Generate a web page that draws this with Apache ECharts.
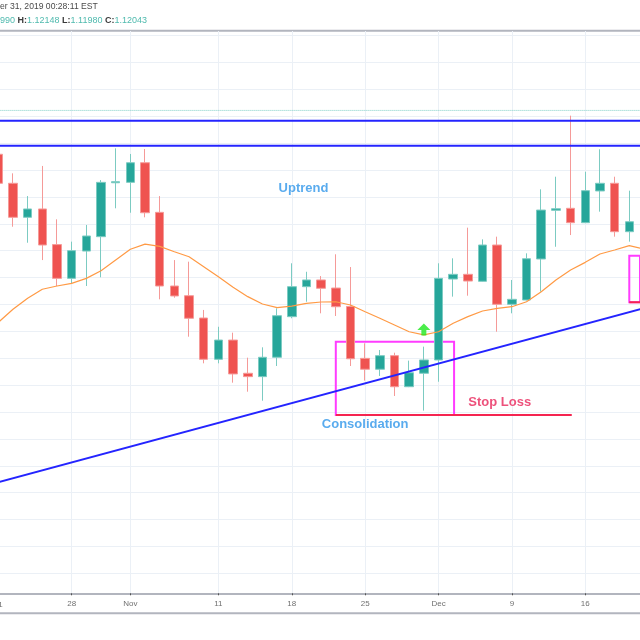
<!DOCTYPE html>
<html><head><meta charset="utf-8">
<script src="https://cdn.jsdelivr.net/npm/echarts@6/dist/echarts.min.js"></script>
<style>html,body{margin:0;padding:0;background:#fff;overflow:hidden}#c{width:640px;height:640px}</style>
</head><body><div id="c"></div>
<script>
// trading-day index 0 = 2019-10-21
const dayIndex = [0,1,2,3,4,5,6,7,8,9,10,11,12,13,14,15,16,17,18,19,20,21,22,23,24,25,26,27,28,29,30,31,32,33,34,35,36,37,38,39,40,41,42,43];
const opens  = [1.11717,1.11501,1.11248,1.11310,1.11045,1.10794,1.10997,1.11104,1.11505,1.11508,1.11654,1.11285,1.10737,1.10665,1.10499,1.10192,1.10335,1.10088,1.10063,1.10207,1.10509,1.10732,1.10782,1.10722,1.10585,1.10199,1.10118,1.10219,1.09988,1.10088,1.10187,1.10789,1.10824,1.10772,1.11042,1.10601,1.10633,1.10938,1.11300,1.11315,1.11208,1.11444,1.11501,1.11141];
const closes = [1.11501,1.11248,1.11310,1.11042,1.10794,1.11000,1.11109,1.11508,1.11513,1.11654,1.11282,1.10737,1.10663,1.10497,1.10192,1.10335,1.10083,1.10063,1.10207,1.10516,1.10732,1.10782,1.10720,1.10583,1.10196,1.10118,1.10219,1.09988,1.10092,1.10187,1.10794,1.10824,1.10774,1.11042,1.10601,1.10638,1.10940,1.11302,1.11312,1.11208,1.11446,1.11501,1.11141,1.11215];
const lows   = [1.11451,1.11178,1.11059,1.10930,1.10737,1.10757,1.10737,1.10802,1.11315,1.11282,1.11248,1.10638,1.10650,1.10360,1.10162,1.10162,1.10018,1.09951,1.09884,1.10142,1.10497,1.10620,1.10534,1.10514,1.10142,1.10033,1.10068,1.09919,1.09985,1.09810,1.10025,1.10658,1.10665,1.10770,1.10397,1.10534,1.10630,1.10695,1.11029,1.11116,1.11205,1.11290,1.11104,1.11067];
const highs  = [1.11763,1.11575,1.11406,1.11630,1.11233,1.11067,1.11191,1.11525,1.11761,1.11719,1.11756,1.11406,1.10930,1.10918,1.10559,1.10434,1.10390,1.10204,1.10281,1.10571,1.10906,1.10843,1.10811,1.10973,1.10878,1.10311,1.10261,1.10241,1.10182,1.10286,1.10906,1.10943,1.11171,1.11084,1.11104,1.10782,1.10980,1.11456,1.11550,1.12004,1.11587,1.11754,1.11550,1.11446];
const maIndex = [0,1,2,3,4,5,6,7,8,9,10,11,12,13,14,15,16,17,18,19,20,21,22,23,24,25,26,27,28,29,30,31,32,33,34,35,36,37,38,39,40,41,42,43,44];
const maValues = [1.10466,1.10564,1.10646,1.10713,1.10737,1.10757,1.10794,1.10851,1.10930,1.11010,1.11049,1.11032,1.10992,1.10955,1.10881,1.10806,1.10727,1.10658,1.10603,1.10576,1.10588,1.10608,1.10618,1.10620,1.10596,1.10546,1.10497,1.10447,1.10397,1.10373,1.10397,1.10460,1.10509,1.10551,1.10571,1.10583,1.10620,1.10695,1.10782,1.10856,1.10913,1.10975,1.11005,1.11037,1.11012];
const tickIndex  = [0,5,9,15,20,25,30,35,40];
const tickLabels = ['21','28','Nov','11','18','25','Dec','9','16'];
const priceGrid = [1.086,1.088,1.090,1.092,1.094,1.096,1.098,1.100,1.102,1.104,1.106,1.108,1.110,1.112,1.114,1.116,1.118,1.120,1.122,1.124,1.126];
const lastPrice = 1.12043;
const resistanceLevels = [1.11967, 1.11780];
const trendX = [0, 44];
const trendY = [1.09278, 1.10572];
const consolidationX = [23, 31.06];
const consolidationY = [1.10323, 1.09778];
const rightBoxX = [43, 46];
const rightBoxY = [1.10962, 1.10616];
const stopLossX = [23, 39.08];
const stopLossY = [1.09778, 1.09778];
const arrowPoint = [29, 1.10414];
const noteText = ['Uptrend', 'Consolidation', 'Stop Loss'];
const noteX = [20.8, 25.0, 34.17];
const noteY = [1.11462, 1.09707, 1.09874];
const noteColor = ['#2f96ea', '#2f96ea', '#e8265a'];

const X_MIN = 0.116, X_MAX = 43.73;
const chart = echarts.init(document.getElementById('c'));
const FONT = '"Liberation Sans", Arial, sans-serif';
const candleData = dayIndex.map((d, i) => [d, opens[i], closes[i], lows[i], highs[i]]);
const maData = maIndex.map((d, i) => [d, maValues[i]]);
const hLine = (p, color, type, width) => ({
  type: 'line', data: [[-1, p], [46, p]], symbol: 'none', silent: true,
  lineStyle: { color: color, type: type, width: width }, z: 4
});

chart.setOption({
  animation: false,
  backgroundColor: '#ffffff',
  grid: { left: 0, right: 0, top: 31, bottom: 46.7, containLabel: false },
  xAxis: {
    type: 'value', min: X_MIN, max: X_MAX,
    axisLine: { show: true, lineStyle: { color: '#b2b5be', width: 2 } },
    axisTick: { show: true, customValues: tickIndex, length: 2, lineStyle: { color: '#555' } },
    axisLabel: { show: true, customValues: tickIndex, margin: 6, fontSize: 8, color: '#707070', fontFamily: FONT,
      formatter: v => { const k = tickIndex.indexOf(Math.round(v)); return k >= 0 ? tickLabels[k] : ''; } },
    splitLine: { show: true, lineStyle: { color: '#ebf0f6', width: 1 } }
  },
  yAxis: {
    type: 'value', min: 1.084515, max: 1.126337, scale: true,
    axisLine: { show: false }, axisLabel: { show: false },
    axisTick: { show: false, customValues: priceGrid },
    splitLine: { show: true, lineStyle: { color: '#ebf0f6', width: 1 } }
  },
  series: [
    {
      type: 'candlestick', data: candleData, encode: { x: 0, y: [1, 2, 3, 4] },
      barWidth: 9, z: 2,
      itemStyle: { color: '#26a69a', color0: '#ef5350', borderColor: '#7ccbc2', borderColor0: '#f59a98', borderWidth: 1 },
      markArea: {
        silent: true,
        itemStyle: { color: 'rgba(0,0,0,0)', borderColor: '#ff3cff', borderWidth: 2 },
        data: [
          [{ coord: [consolidationX[0], consolidationY[0]] }, { coord: [consolidationX[1], consolidationY[1]] }],
          [{ coord: [rightBoxX[0], rightBoxY[0]] }, { coord: [rightBoxX[1], rightBoxY[1]] }]
        ]
      }
    },
    hLine(lastPrice, '#7fcfc5', [1, 1], 1),
    hLine(resistanceLevels[0], '#2424ff', 'solid', 2),
    hLine(resistanceLevels[1], '#2424ff', 'solid', 2),
    {
      type: 'line', data: maData, showSymbol: false, symbol: 'none',
      lineStyle: { color: '#ff9a45', width: 1.2 }, z: 3
    },
    {
      type: 'line', data: trendX.map((x, i) => [x, trendY[i]]), symbol: 'none',
      lineStyle: { color: '#2424ff', width: 2 }, z: 4
    },
    {
      type: 'line', data: stopLossX.map((x, i) => [x, stopLossY[i]]), symbol: 'none',
      lineStyle: { color: '#f52550', width: 2 }, z: 4
    },
    {
      type: 'line', data: [[rightBoxX[0], rightBoxY[1]], [rightBoxX[1], rightBoxY[1]]], symbol: 'none',
      lineStyle: { color: '#f52550', width: 2 }, z: 4
    },
    {
      type: 'scatter', data: [arrowPoint],
      symbol: 'path://M6.5,0 L13,6.5 L9,6.5 L9,12 L4,12 L4,6.5 L0,6.5 Z',
      symbolSize: [13, 12], itemStyle: { color: '#1ee81e' }, z: 5
    },
    {
      type: 'scatter', symbolSize: 0, z: 6,
      data: noteText.map((t, i) => ({ value: [noteX[i], noteY[i]], name: t,
        label: { color: noteColor[i] } })),
      label: { show: true, position: 'inside', formatter: '{b}', fontSize: 13, fontWeight: 'bold', fontFamily: FONT }
    }
  ],
  graphic: [
    { type: 'line', shape: { x1: 0, y1: 30.7, x2: 640, y2: 30.7 }, style: { stroke: '#b2b5be', lineWidth: 2 } },
    { type: 'line', shape: { x1: 0, y1: 613.3, x2: 640, y2: 613.3 }, style: { stroke: '#b2b5be', lineWidth: 2 } },
    { type: 'text', x: -1.7, y: 604.5, style: { text: tickLabels[0], font: '8px ' + FONT, fill: '#707070', align: 'center', verticalAlign: 'middle' } },
    { type: 'text', left: 0, top: 2, style: { text: 'er 31, 2019 00:28:11 EST', font: '8.6px ' + FONT, fill: '#4a4a4a' } },
    { type: 'text', left: 0, top: 16, style: {
        text: '{v|990} {k|H:}{v|1.12148} {k|L:}{v|1.11980} {k|C:}{v|1.12043}',
        font: '9px ' + FONT,
        rich: { v: { fill: '#4fbaae', font: '9px ' + FONT }, k: { fill: '#3a3a3a', font: 'bold 9px ' + FONT } }
      } }
  ]
});
</script></body></html>
